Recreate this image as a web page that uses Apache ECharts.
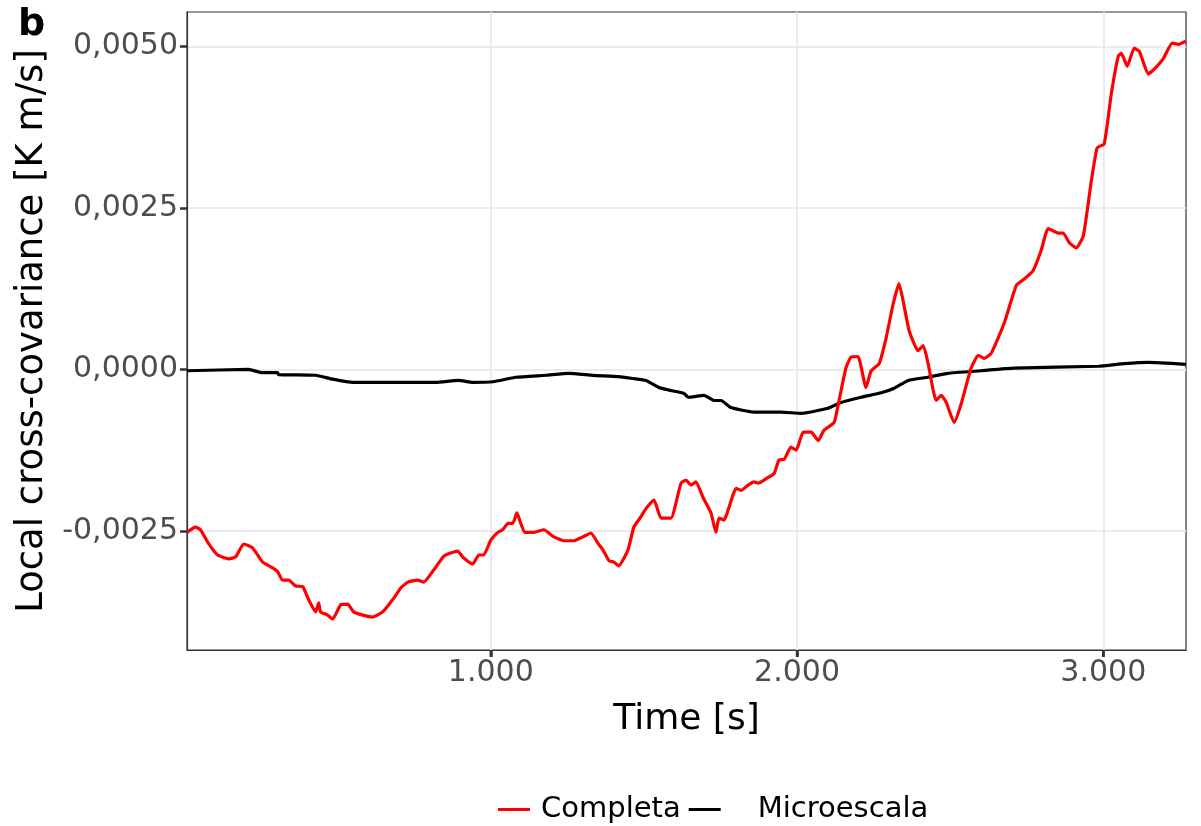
<!DOCTYPE html>
<html>
<head>
<meta charset="utf-8">
<script src="https://cdn.jsdelivr.net/npm/echarts@6/dist/echarts.min.js"></script>
<style>
  html, body { margin: 0; padding: 0; background: #ffffff; }
  #chart { width: 1201px; height: 826px; }
</style>
</head>
<body>
<div id="chart"></div>
<script>
// Local cross-covariance over time: full signal ("Completa") and microscale part ("Microescala")
const timeCompleta = [8, 36, 52, 78, 108, 144, 167, 193, 222, 255, 288, 304, 320, 340, 363, 386, 405, 428, 438, 444, 467, 484, 510, 533, 552, 582, 614, 647, 680, 706, 729, 761, 781, 814, 846, 869, 892, 908, 941, 961, 977, 1000, 1023, 1039, 1056, 1072, 1085, 1111, 1141, 1173, 1206, 1239, 1271, 1301, 1327, 1350, 1366, 1386, 1402, 1418, 1448, 1467, 1490, 1507, 1533, 1556, 1588, 1621, 1637, 1654, 1670, 1693, 1719, 1735, 1745, 1761, 1801, 1817, 1840, 1859, 1873, 1905, 1925, 1941, 1958, 1980, 1997, 2020, 2046, 2069, 2088, 2121, 2137, 2160, 2176, 2199, 2225, 2242, 2268, 2291, 2314, 2333, 2346, 2366, 2395, 2412, 2428, 2454, 2471, 2487, 2513, 2536, 2569, 2592, 2611, 2634, 2676, 2716, 2742, 2771, 2797, 2820, 2853, 2869, 2889, 2912, 2935, 2961, 2980, 3003, 3026, 3049, 3059, 3078, 3101, 3118, 3147, 3167, 3196, 3225, 3245, 3270];
const valCompleta = [-0.00252, -0.00244, -0.00248, -0.00269, -0.00287, -0.00293, -0.00290, -0.00270, -0.00276, -0.00298, -0.00307, -0.00313, -0.00326, -0.00326, -0.00335, -0.00336, -0.00356, -0.00375, -0.00361, -0.00375, -0.00380, -0.00386, -0.00364, -0.00363, -0.00375, -0.00380, -0.00383, -0.00375, -0.00356, -0.00338, -0.00329, -0.00326, -0.00329, -0.00310, -0.00289, -0.00284, -0.00281, -0.00290, -0.00301, -0.00287, -0.00287, -0.00264, -0.00252, -0.00248, -0.00238, -0.00238, -0.00222, -0.00252, -0.00252, -0.00248, -0.00259, -0.00265, -0.00265, -0.00259, -0.00253, -0.00269, -0.00279, -0.00296, -0.00298, -0.00304, -0.00279, -0.00244, -0.00228, -0.00215, -0.00202, -0.00230, -0.00230, -0.00176, -0.00171, -0.00179, -0.00174, -0.00198, -0.00222, -0.00252, -0.00230, -0.00233, -0.00184, -0.00187, -0.00179, -0.00174, -0.00176, -0.00167, -0.00161, -0.00140, -0.00139, -0.00120, -0.00125, -0.00097, -0.00097, -0.00110, -0.00094, -0.00082, -0.00048, 0.00003, 0.00019, 0.00020, -0.00028, -0.00002, 0.00009, 0.00049, 0.00102, 0.00133, 0.00107, 0.00060, 0.00029, 0.00037, 0.00009, -0.00048, -0.00040, -0.00051, -0.00082, -0.00053, 0.00003, 0.00022, 0.00017, 0.00025, 0.00071, 0.00130, 0.00140, 0.00153, 0.00184, 0.00218, 0.00211, 0.00211, 0.00196, 0.00188, 0.00207, 0.00292, 0.00343, 0.00349, 0.00426, 0.00485, 0.00489, 0.00469, 0.00497, 0.00492, 0.00457, 0.00465, 0.00481, 0.00505, 0.00503, 0.00508];

const timeMicro = [8, 209, 255, 304, 307, 428, 484, 549, 657, 820, 895, 941, 1007, 1082, 1180, 1255, 1333, 1418, 1464, 1507, 1549, 1582, 1631, 1644, 1696, 1729, 1752, 1784, 1859, 1948, 2013, 2101, 2144, 2209, 2275, 2317, 2363, 2428, 2493, 2601, 2709, 2984, 3069, 3147, 3270];
const valMicro = [-0.00002, 0.00000, -0.00005, -0.00005, -0.00008, -0.00009, -0.00015, -0.00020, -0.00020, -0.00020, -0.00017, -0.00020, -0.00019, -0.00012, -0.00009, -0.00006, -0.00009, -0.00011, -0.00014, -0.00017, -0.00028, -0.00032, -0.00037, -0.00043, -0.00040, -0.00048, -0.00048, -0.00059, -0.00066, -0.00066, -0.00068, -0.00060, -0.00051, -0.00043, -0.00036, -0.00029, -0.00017, -0.00012, -0.00006, -0.00002, 0.00002, 0.00005, 0.00009, 0.00011, 0.00008];

const xTicks = [1000, 2000, 3000];
const yTicks = [-0.0025, 0, 0.0025, 0.005];
const seriesNames = ['Completa', 'Microescala'];

const X_MIN = 8, X_MAX = 3270;
const Y_MIN = -0.00434, Y_MAX = 0.00553;

const pairs = (xs, ys) => xs.map((x, i) => [x, ys[i]]);
const fmtX = v => String(Math.round(v)).replace(/\B(?=(\d{3})+(?!\d))/g, '.');
const fmtY = v => v.toFixed(4).replace('.', ',');

const FONT = 'DejaVu Sans';
const BORDER = '#333333';
const chart = echarts.init(document.getElementById('chart'), null, { renderer: 'canvas' });

chart.setOption({
  animation: false,
  backgroundColor: '#ffffff',
  grid: {
    left: 187, right: 15, top: 12, bottom: 176,
    show: true, borderColor: BORDER, borderWidth: 1.2, backgroundColor: 'transparent'
  },
  xAxis: {
    type: 'value',
    position: 'bottom',
    min: X_MIN, max: X_MAX,
    axisLine: { show: true, onZero: false, lineStyle: { color: BORDER, width: 1.2 } },
    axisTick: { show: true, inside: false, customValues: xTicks, length: 7, lineStyle: { color: BORDER, width: 2.5 } },
    axisLabel: { customValues: xTicks, formatter: fmtX, margin: 8, color: '#4d4d4d', fontSize: 30, fontFamily: FONT },
    splitLine: { show: true, lineStyle: { color: '#ebebeb', width: 2 } },
    name: 'Time [s]', nameLocation: 'middle', nameGap: 52,
    nameTextStyle: { color: '#000000', fontSize: 36, fontFamily: FONT }
  },
  yAxis: {
    type: 'value',
    position: 'left',
    min: Y_MIN, max: Y_MAX,
    axisLine: { show: true, onZero: false, lineStyle: { color: BORDER, width: 1.2 } },
    axisTick: { show: true, inside: false, customValues: yTicks, length: 7, lineStyle: { color: BORDER, width: 2.5 } },
    axisLabel: { customValues: yTicks, formatter: fmtY, margin: 9, color: '#4d4d4d', fontSize: 30, fontFamily: FONT },
    splitLine: { show: true, lineStyle: { color: '#ebebeb', width: 2 } },
    name: 'Local cross-covariance [K m/s]', nameLocation: 'middle', nameGap: 136, nameRotate: 90,
    nameTextStyle: { color: '#000000', fontSize: 37, fontFamily: FONT }
  },
  legend: {
    left: 493, top: 790,
    icon: 'rect', itemWidth: 32, itemHeight: 3, itemGap: 8,
    textStyle: { color: '#000000', fontSize: 29, fontFamily: FONT },
    data: [
      { name: seriesNames[0], textStyle: { padding: [0, 0, 0, 6] } },
      { name: seriesNames[1], textStyle: { padding: [0, 0, 0, 32] } }
    ]
  },
  series: [
    {
      name: seriesNames[0], type: 'line', data: pairs(timeCompleta, valCompleta),
      showSymbol: false, smooth: 0.15, z: 3,
      lineStyle: { color: '#ff0000', width: 3.2 }, itemStyle: { color: '#ff0000' }
    },
    {
      name: seriesNames[1], type: 'line', data: pairs(timeMicro, valMicro),
      showSymbol: false, smooth: 0.15, z: 2,
      lineStyle: { color: '#000000', width: 3.2 }, itemStyle: { color: '#000000' }
    }
  ]
});

// Panel tag and bottom tick marks, positioned through the chart's own coordinate conversion
const bottomY = chart.convertToPixel({ yAxisIndex: 0 }, Y_MIN);
const tickMarks = xTicks.map(v => {
  const px = chart.convertToPixel({ xAxisIndex: 0 }, v);
  return {
    type: 'line', silent: true, z: 10,
    shape: { x1: px, y1: bottomY, x2: px, y2: bottomY + 7 },
    style: { stroke: BORDER, lineWidth: 2.5 }
  };
});
chart.setOption({
  graphic: [
    {
      type: 'text', left: 18, top: 6,
      style: { text: 'b', fontSize: 38, fontWeight: 'bold', fontFamily: FONT, fill: '#000000' }
    }
  ].concat(tickMarks)
});
</script>
</body>
</html>
